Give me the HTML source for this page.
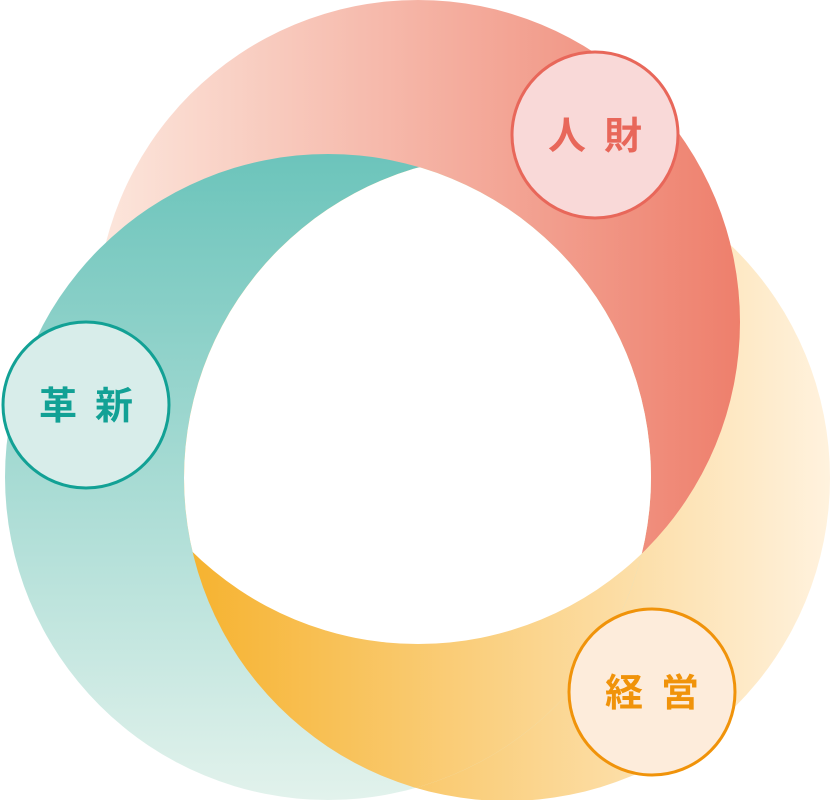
<!DOCTYPE html>
<html><head><meta charset="utf-8"><style>
html,body{margin:0;padding:0;background:#fff}
svg{display:block}
text{font-family:"Liberation Sans","Noto Sans CJK JP",sans-serif;font-weight:bold;font-size:38px;letter-spacing:18px}
</style></head><body>
<svg width="830" height="800" viewBox="0 0 830 800">
<defs>
<linearGradient id="gr" x1="96" y1="0" x2="740" y2="0" gradientUnits="userSpaceOnUse">
<stop offset="0" stop-color="#fce7dd"/><stop offset="1" stop-color="#ee7f6c"/></linearGradient>
<linearGradient id="gy" x1="184" y1="0" x2="830" y2="0" gradientUnits="userSpaceOnUse">
<stop offset="0" stop-color="#f6b22e"/><stop offset="1" stop-color="#fff2de"/></linearGradient>
<linearGradient id="gt" x1="0" y1="155" x2="0" y2="800" gradientUnits="userSpaceOnUse">
<stop offset="0" stop-color="#6cc4bb"/><stop offset="1" stop-color="#e2f2ec"/></linearGradient>
<clipPath id="ct"><circle cx="328" cy="477" r="323"/></clipPath>
<clipPath id="cy"><circle cx="507" cy="478" r="323"/></clipPath>
</defs>
<circle cx="507" cy="478" r="323" fill="url(#gy)"/>
<circle cx="418" cy="322" r="322" fill="url(#gr)"/>
<circle cx="328" cy="477" r="323" fill="url(#gt)"/>
<g clip-path="url(#ct)"><circle cx="507" cy="478" r="323" fill="url(#gy)"/></g>
<g clip-path="url(#ct)"><g clip-path="url(#cy)"><circle cx="418" cy="322" r="322" fill="#fff"/></g></g>
<circle cx="595" cy="135" r="83" fill="#f9d9d8" stroke="#e8675a" stroke-width="3"/>
<text x="604" y="149" text-anchor="middle" fill="#e8675a">人財</text>
<circle cx="86" cy="405" r="83" fill="#d8edea" stroke="#12a195" stroke-width="3"/>
<text x="95" y="419" text-anchor="middle" fill="#12a195">革新</text>
<circle cx="652" cy="692" r="83" fill="#fdecdb" stroke="#f0930a" stroke-width="3"/>
<text x="661" y="706" text-anchor="middle" fill="#f0930a">経営</text>
</svg>
</body></html>
